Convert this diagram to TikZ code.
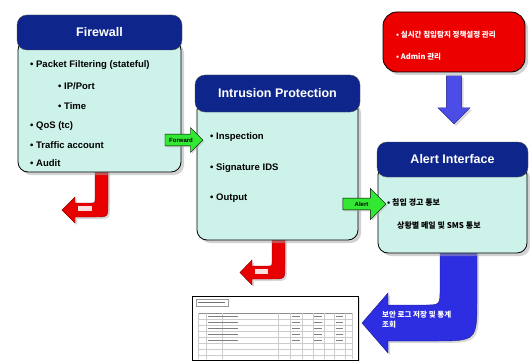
\documentclass[tikz,border=0pt]{standalone}
\usepackage{fontspec}
\setmainfont{Liberation Sans}
\newfontfamily\kor{Noto Sans CJK KR}
\usetikzlibrary{shapes.arrows,shadows}
\definecolor{hdrblue}{RGB}{14,38,140}
\definecolor{bodycyan}{RGB}{205,242,234}
\definecolor{alertred}{RGB}{236,0,0}
\definecolor{arrowred}{RGB}{232,0,0}
\definecolor{arrowblue}{RGB}{45,45,225}
\definecolor{arrowgreen}{RGB}{50,232,50}
\begin{document}
\begin{tikzpicture}[x=1pt,y=-1pt,
		bodybox/.style={draw=black, line width=0.8pt, fill=bodycyan, rounded corners=10pt, inner sep=0pt,
			drop shadow={shadow xshift=3pt, shadow yshift=-3pt, fill=black!35}},
		hdrbox/.style={draw=black!70, fill=hdrblue, rounded corners=10pt, inner sep=0pt, text=white,
			font=\fontsize{12.5}{14}\selectfont\bfseries},
		item/.style={anchor=west, inner sep=0pt, font=\fontsize{9.5}{11}\selectfont\bfseries},
		koritem/.style={anchor=west, inner sep=0pt, font=\kor\fontsize{8}{10}\selectfont\bfseries},
		blockred/.style={fill=arrowred, draw=arrowred!60!black, line width=0.4pt,
			drop shadow={shadow xshift=2pt, shadow yshift=-2pt, fill=black!30}},
		blockblue/.style={fill=arrowblue, draw=arrowblue!60!black, line width=0.4pt,
			drop shadow={shadow xshift=2pt, shadow yshift=-2pt, fill=black!30}},
		greenarrow/.style={single arrow, draw=black, fill=arrowgreen, inner xsep=1pt, inner ysep=3pt,
			font=\fontsize{6}{7}\selectfont\bfseries,
			drop shadow={shadow xshift=1.5pt, shadow yshift=-1.5pt, fill=black!30}},
	]
	\useasboundingbox (0,0) rectangle (530,361);

	% curved block arrows (under the boxes)
	\draw[blockred] (95,165) -- (108,165) -- (108,204) .. controls (108,217) .. (95,217) -- (75,217)
		-- (75,223) -- (62,210) -- (75,197) -- (75,203) -- (91,203) .. controls (95,203) .. (95,199) -- cycle;
	\fill[red!12] (78,206) rectangle (92,211);
	\draw[blockred] (272,235) -- (285,235) -- (285,266) .. controls (285,279) .. (272,279) -- (252,279)
		-- (252,285) -- (240,272.5) -- (252,260) -- (252,266) -- (268,266) .. controls (272,266) .. (272,262) -- cycle;
	\fill[red!12] (255,269) rectangle (268,274);
	\draw[blockblue] (440,248) -- (477,248) -- (477,298) .. controls (477,341) .. (434,341) -- (388,341)
		-- (388,353) -- (362,323) -- (388,293) -- (388,305) -- (424,305) .. controls (440,305) .. (440,289) -- cycle;
	\node[anchor=north west, inner sep=0pt, align=left, text=white, font=\kor\fontsize{7.5}{10}\selectfont\bfseries]
		(logtxt) at (382,311) {보안 로그 저장 및 통계\\조회};

	% Firewall
	\node[bodybox, minimum width=163pt, minimum height=132pt] (fwbody) at (99.5,106) {};
	\node[hdrbox, minimum width=165pt, minimum height=35pt] (fwhead) at (99.5,32.5) {Firewall};
	\node[item] (fw1) at (30,65) {• Packet Filtering (stateful)};
	\node[item] (fw2) at (58,86) {• IP/Port};
	\node[item] (fw3) at (58,106) {• Time};
	\node[item] (fw4) at (30,126) {• QoS (tc)};
	\node[item] (fw5) at (30,145) {• Traffic account};
	\node[item] (fw6) at (30,163) {• Audit};

	% Intrusion Protection
	\node[bodybox, minimum width=161pt, minimum height=140pt] (ipbody) at (277.5,170) {};
	\node[hdrbox, minimum width=165pt, minimum height=37pt] (iphead) at (277.5,93.5) {Intrusion Protection};
	\node[item] (ip1) at (210,137) {• Inspection};
	\node[item] (ip2) at (210,168) {• Signature IDS};
	\node[item] (ip3) at (210,198) {• Output};

	% policy box
	\node[draw=black, line width=0.8pt, fill=alertred, rounded corners=14pt, minimum width=142pt, minimum height=60pt,
		drop shadow={shadow xshift=3pt, shadow yshift=-3pt, fill=black!35}] (policy) at (454,42) {};
	\node[koritem, text=white, font=\kor\fontsize{7.5}{9}\selectfont\bfseries] (pol1) at (396,35) {• 실시간 침입탐지 정책설정 관리};
	\node[koritem, text=white, font=\kor\fontsize{7.5}{9}\selectfont\bfseries] (pol2) at (396,57) {• Admin 관리};
	\node[single arrow, shape border rotate=270, fill=arrowblue!85!white, draw=arrowblue!60!black,
		minimum height=48pt, minimum width=32pt, inner sep=7pt, single arrow head extend=8pt,
		drop shadow={shadow xshift=2pt, shadow yshift=-2pt, fill=black!30}] (dnarrow) at (454,96) {};

	% Alert Interface
	\node[bodybox, minimum width=149pt, minimum height=88pt] (albody) at (452.5,209) {};
	\node[hdrbox, minimum width=151pt, minimum height=35pt] (alhead) at (452.5,159.5) {Alert Interface};
	\node[koritem] (al1) at (387,202) {• 침입 경고 통보};
	\node[koritem] (al2) at (397,225) {상황별 메일 및 SMS 통보};

	% green arrows between the boxes
	\node[greenarrow, minimum height=38pt, minimum width=25pt, single arrow head extend=6pt] (fwd) at (181,140) {Forward};
	\node[greenarrow, minimum height=43pt, minimum width=31pt, single arrow head extend=9pt] (alrt) at (361.5,204) {Alert};

	% report screen
	\node[draw=black, line width=0.8pt, fill=white, minimum width=166pt, minimum height=64pt, inner sep=0pt,
		drop shadow={shadow xshift=2pt, shadow yshift=-2pt, fill=black!25}] (report) at (275,328) {};
	\draw[black!40, line width=0.4pt] (196,299) rectangle (228,306);
	\draw[black!55, line width=0.6pt] (198,302.5) -- (225,302.5);
	\draw[black!45, line width=0.5pt] (198,313) -- (352,313);
	\foreach \y in {319,325,...,359}
		\draw[black!20, line width=0.3pt] (198,\y) -- (352,\y);
	\foreach \x in {198,206,222,278,290,302,313,324,334,345,352}
		\draw[black!20, line width=0.3pt] (\x,313) -- (\x,359);
	\foreach \y in {316,322,328,334,340}
		\draw[black!50, line width=0.7pt] (208,\y) -- (238,\y) (292,\y) -- (300,\y) (314,\y) -- (322,\y) (336,\y) -- (343,\y);
\end{tikzpicture}
\end{document}
